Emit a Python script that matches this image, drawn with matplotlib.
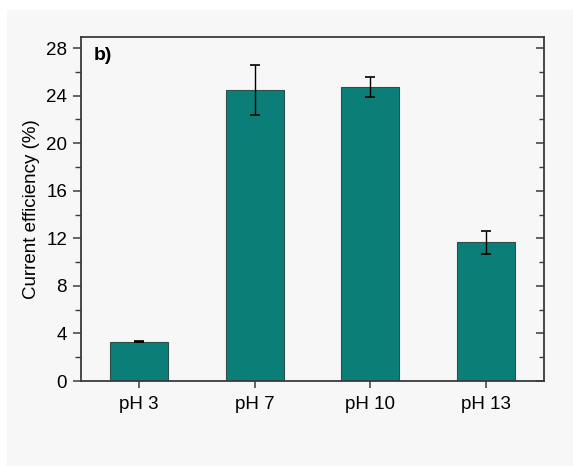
import numpy as np
import matplotlib.pyplot as plt
from matplotlib.patches import Rectangle
from matplotlib.ticker import MultipleLocator

plt.rcParams['font.family'] = ['Liberation Sans', 'DejaVu Sans']

# ---- data ----
labels = ['pH 3', 'pH 7', 'pH 10', 'pH 13']
efficiency = [3.3, 24.5, 24.75, 11.65]   # current efficiency [%]
err = [0.05, 2.1, 0.85, 0.98]           # standard deviation [%]

bar_color = '#0b7f77'
spine_color = '#3a3a3a'

fig = plt.figure(figsize=(5.73, 4.66), dpi=100, facecolor='white')
# light grey panel behind the plot
fig.patches.append(Rectangle((7 / 573, 0), 1, 1 - 10 / 466, transform=fig.transFigure,
                             facecolor='#f7f7f7', edgecolor='none', zorder=-1))

ax = fig.add_axes([81 / 573, 85 / 466, 463 / 573, 344 / 466])
ax.set_facecolor('none')

x = np.arange(len(labels))
ax.bar(x, efficiency, width=0.5, color=bar_color, edgecolor='#2f4f4c', linewidth=0.8, zorder=2)
ax.errorbar(x, efficiency, yerr=err, fmt='none', ecolor='black', elinewidth=1.0,
            capsize=3.5, capthick=1.2, zorder=3)

ax.set_xlim(-0.5, 3.5)
ax.set_ylim(0, 28.93)
ax.set_xticks(x)
ax.set_xticklabels(labels)
ax.yaxis.set_major_locator(MultipleLocator(4))
ax.yaxis.set_minor_locator(MultipleLocator(2))
ax.set_yticks([0, 4, 8, 12, 16, 20, 24, 28])

for s in ax.spines.values():
    s.set_color(spine_color)
    s.set_linewidth(1.3)

ax.tick_params(axis='both', which='both', colors=spine_color, labelcolor='black', labelsize=13.5)
ax.tick_params(axis='y', which='major', direction='out', length=6, width=1.1, left=True, right=False, pad=4)
ax.tick_params(axis='y', which='minor', direction='out', length=4, width=1.0, left=True, right=False)
ax.tick_params(axis='x', which='major', direction='out', length=5, width=1.1, top=False, pad=6)

# inward ticks on the right side
axr = ax.twinx()
axr.set_ylim(ax.get_ylim())
axr.yaxis.set_major_locator(MultipleLocator(4))
axr.yaxis.set_minor_locator(MultipleLocator(2))
axr.tick_params(axis='y', which='major', direction='in', length=6, width=1.1, colors=spine_color, labelright=False)
axr.tick_params(axis='y', which='minor', direction='in', length=3.5, width=1.0, colors=spine_color)
for s in axr.spines.values():
    s.set_visible(False)

ax.set_ylabel('Current efficiency (%)', fontsize=13.5, labelpad=4.5)
ax.text(0.027, 0.97, 'b)', transform=ax.transAxes, fontsize=14, fontweight='bold', va='top', ha='left')

fig.savefig('out.png', dpi=100, facecolor=fig.get_facecolor())
